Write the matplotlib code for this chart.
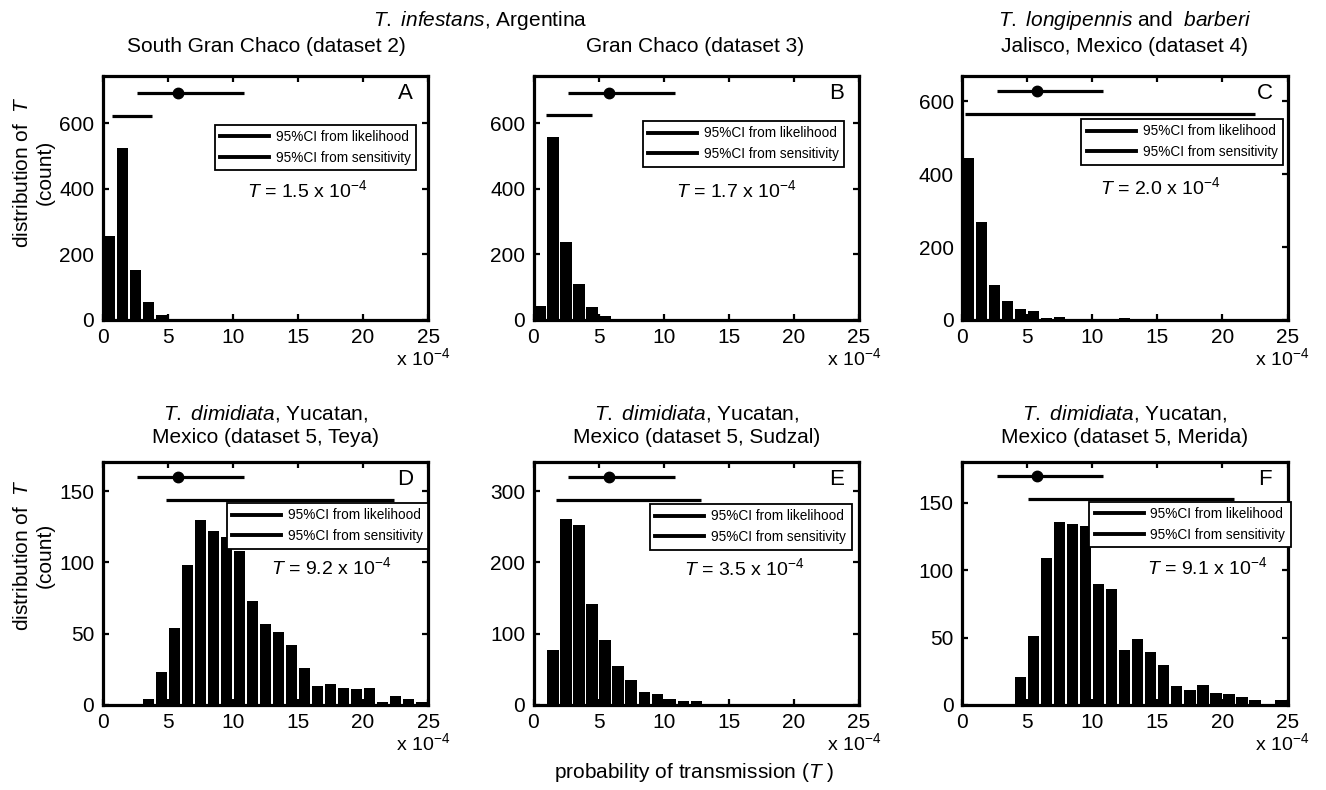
import numpy as np
import matplotlib
matplotlib.use('Agg')
import matplotlib.pyplot as plt
from matplotlib.lines import Line2D

plt.rcParams['font.family'] = ['Liberation Sans', 'DejaVu Sans']
plt.rcParams['mathtext.fontset'] = 'custom'
plt.rcParams['mathtext.rm'] = 'Liberation Sans'
plt.rcParams['mathtext.it'] = 'Liberation Sans:italic'
plt.rcParams['mathtext.bf'] = 'Liberation Sans:bold'

# ---------------- data (T in units of 1e-4, bins of width 1) ----------------
bin_left = list(range(25))
counts_A = [257, 524, 153, 56, 15, 3, 1, 0, 0, 0, 0, 0, 0, 0, 0, 0, 0, 0, 0, 0, 0, 0, 0, 0, 0]
counts_B = [43, 560, 239, 110, 41, 12, 3, 1, 0, 0, 0, 0, 0, 0, 0, 0, 0, 0, 0, 0, 0, 0, 0, 0, 0]
counts_C = [446, 269, 96, 51, 31, 24, 5, 7, 2, 3, 2, 1, 5, 4, 1, 1, 0, 0, 1, 3, 2, 1, 1, 0, 0]
counts_D = [0, 0, 0, 4, 23, 54, 98, 130, 122, 118, 108, 73, 57, 51, 42, 26, 13, 15, 12, 11, 12, 2, 6, 4, 2]
counts_E = [0, 77, 261, 253, 142, 91, 55, 35, 18, 15, 8, 5, 6, 2, 2, 2, 1, 1, 0, 0, 1, 1, 0, 0, 0]
counts_F = [0, 0, 0, 0, 21, 51, 109, 136, 134, 133, 90, 86, 41, 49, 39, 30, 14, 11, 15, 9, 8, 6, 4, 1, 4]

# CI from likelihood (same for all panels): low, high, point estimate
lik_ci = [2.66, 10.84]
lik_est = 5.77
lik_y = [693, 694, 628, 160, 320, 170]
# CI from sensitivity: low, high, y position
sens_lo = [0.68, 0.94, 0.26, 4.9, 1.7, 5.1]
sens_hi = [3.8, 4.47, 22.5, 22.4, 12.9, 20.9]
sens_y = [624, 625, 565, 144, 288, 153]

T_values = ['1.5', '1.7', '2.0', '9.2', '3.5', '9.1']
letters = ['A', 'B', 'C', 'D', 'E', 'F']
ylims = [745, 745, 670, 170, 340, 180]
yticks = [[0, 200, 400, 600], [0, 200, 400, 600], [0, 200, 400, 600],
          [0, 50, 100, 150], [0, 100, 200, 300], [0, 50, 100, 150]]
xticks = [0, 5, 10, 15, 20, 25]
legend_labels = ['95%CI from likelihood', '95%CI from sensitivity']

all_counts = [counts_A, counts_B, counts_C, counts_D, counts_E, counts_F]

# ---------------- layout ----------------
W, H = 1326, 790
fig = plt.figure(figsize=(W / 100, H / 100), dpi=100)

lefts = [102.7, 533.5, 962.0]
axw = 325.5
rows = [(76, 320), (462.5, 705)]

leg_anchor = [(0.963, 0.80), (0.955, 0.816), (0.986, 0.824),
              (1.0, 0.833), (0.977, 0.829), (1.01, 0.838)]
T_pos = [(0.628, 0.533), (0.622, 0.533), (0.609, 0.545),
         (0.702, 0.57), (0.647, 0.565), (0.753, 0.57)]

def fx(p):
    return p / W

def fy(p):
    return 1 - p / H

axes = []
for i in range(6):
    r, c = divmod(i, 3)
    top, bot = rows[r]
    ax = fig.add_axes([fx(lefts[c]), fy(bot), axw / W, (bot - top) / H])
    axes.append(ax)
    centers = np.array(bin_left) + 0.5
    ax.bar(centers, all_counts[i], width=0.87, color='black', linewidth=0, zorder=2)
    ax.set_xlim(0, 25)
    ax.set_ylim(0, ylims[i])
    ax.set_xticks(xticks)
    ax.set_yticks(yticks[i])
    ax.tick_params(direction='in', top=True, right=True, length=4, width=1.6,
                   labelsize=15, pad=6)
    for s in ax.spines.values():
        s.set_linewidth(2.3)
    # CI lines
    ax.plot(lik_ci, [lik_y[i]] * 2, color='k', lw=2.3, zorder=3, solid_capstyle='butt')
    ax.plot([lik_est], [lik_y[i]], 'o', color='k', ms=7.5, zorder=4)
    ax.plot([sens_lo[i], sens_hi[i]], [sens_y[i]] * 2, color='k', lw=2.3, zorder=3,
            solid_capstyle='butt')
    # legend
    handles = [Line2D([], [], color='k', lw=2.8), Line2D([], [], color='k', lw=2.8)]
    leg = ax.legend(handles, legend_labels, loc='upper right', bbox_to_anchor=leg_anchor[i],
                    fontsize=9.8, frameon=True, fancybox=False, edgecolor='k', framealpha=1,
                    handlelength=3.6, handletextpad=0.5, borderpad=0.4, labelspacing=0.5,
                    borderaxespad=0)
    leg.get_frame().set_linewidth(1.3)
    leg.set_zorder(5)
    # T annotation
    ax.text(T_pos[i][0], T_pos[i][1],
            r'$\mathit{T}$ = ' + T_values[i] + r' x $\mathregular{10^{-4}}$',
            transform=ax.transAxes, ha='center', va='center', fontsize=14, zorder=6)
    # panel letter
    ax.text(0.93, 0.93, letters[i], transform=ax.transAxes, ha='center', va='center',
            fontsize=16, zorder=6)
    # exponent label
    fig.text(fx(lefts[c] + axw + 22), fy(bot + 38), r'x $\mathregular{10^{-4}}$',
             ha='right', va='center', fontsize=14)

# ---------------- titles ----------------
tfs = 15
fig.text(fx(480), fy(20), r'$\mathit{T.}$ $\mathit{infestans}$, Argentina', ha='center', va='center', fontsize=tfs)
fig.text(fx(266), fy(46), 'South Gran Chaco (dataset 2)', ha='center', va='center', fontsize=tfs)
fig.text(fx(695.5), fy(46), 'Gran Chaco (dataset 3)', ha='center', va='center', fontsize=tfs)
fig.text(fx(1124.5), fy(20), r'$\mathit{T.}$ $\mathit{longipennis}$ and  $\mathit{barberi}$', ha='center', va='center', fontsize=tfs)
fig.text(fx(1124.5), fy(46), 'Jalisco, Mexico (dataset 4)', ha='center', va='center', fontsize=tfs)

bottom_sites = ['Teya', 'Sudzal', 'Merida']
for c in range(3):
    cx = lefts[c] + axw / 2
    fig.text(fx(cx), fy(413), r'$\mathit{T.}$ $\mathit{dimidiata}$, Yucatan,', ha='center', va='center', fontsize=tfs)
    fig.text(fx(cx), fy(438), 'Mexico (dataset 5, %s)' % bottom_sites[c], ha='center', va='center', fontsize=tfs)

# axis labels
for yc in [172, 555]:
    fig.text(fx(34), fy(yc), 'distribution of  $\\mathit{T}$\n(count)', rotation=90,
             ha='center', va='center', multialignment='center', fontsize=tfs)
fig.text(fx(694), fy(772), r'probability of transmission ($\mathit{T}$ )', ha='center', va='center', fontsize=tfs)

fig.savefig('out.png', dpi=100, facecolor='white')
